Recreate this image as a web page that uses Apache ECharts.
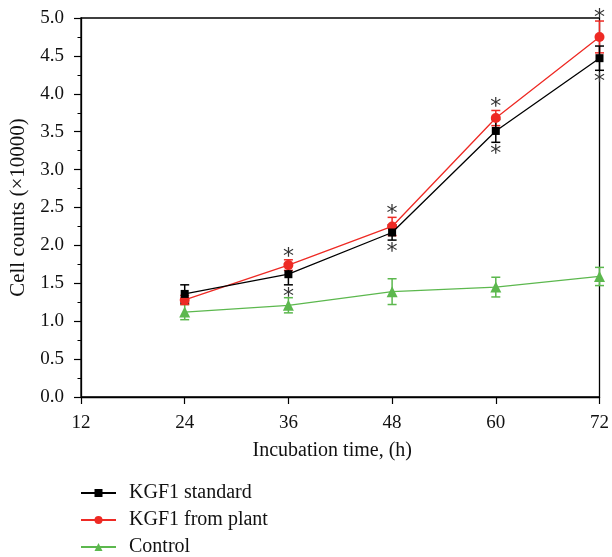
<!DOCTYPE html>
<html><head><meta charset="utf-8">
<script src="https://cdn.jsdelivr.net/npm/echarts@6/dist/echarts.min.js"></script>
<style>html,body{margin:0;padding:0;background:#fff}#c{width:612px;height:557px}</style>
</head><body><div id="c"></div>
<script>
const hours = [24, 36, 48, 60, 72];
const kgfStandard = [1.36, 1.62, 2.17, 3.51, 4.47];
const kgfStandardErr = [0.12, 0.14, 0.10, 0.15, 0.16];
const kgfPlant = [1.28, 1.74, 2.25, 3.68, 4.75];
const kgfPlantErr = [0.06, 0.07, 0.12, 0.10, 0.21];
const control = [1.12, 1.21, 1.39, 1.45, 1.59];
const controlErr = [0.10, 0.10, 0.17, 0.13, 0.12];
const sigHours = [36, 48, 60, 72];
const yTicks = [0, 0.5, 1, 1.5, 2, 2.5, 3, 3.5, 4, 4.5, 5];

const FONT = 'Liberation Serif';
const BLACK = '#000000', RED = '#ee2a24', GREEN = '#5cb84e';

function pts(vals){ return hours.map((h,i)=>[h, vals[i]]); }
function errData(vals, errs){ return hours.map((h,i)=>[h, vals[i]-errs[i], vals[i]+errs[i]]); }

function errSeries(vals, errs, color){
  return {
    type:'custom', silent:true, z:3,
    data: errData(vals, errs),
    renderItem(params, api){
      const x = api.value(0);
      const lo = api.coord([x, api.value(1)]);
      const hi = api.coord([x, api.value(2)]);
      const w = 4.5;
      const st = {stroke: color, lineWidth: 1.5};
      return {type:'group', children:[
        {type:'line', shape:{x1:lo[0], y1:lo[1], x2:hi[0], y2:hi[1]}, style:st},
        {type:'line', shape:{x1:lo[0]-w, y1:lo[1], x2:lo[0]+w, y2:lo[1]}, style:st},
        {type:'line', shape:{x1:hi[0]-w, y1:hi[1], x2:hi[0]+w, y2:hi[1]}, style:st}
      ]};
    }
  };
}

// stars: above KGF1-from-plant error bar top, below KGF1-standard error bar bottom
const starData = [];
sigHours.forEach(h=>{
  const i = hours.indexOf(h);
  starData.push([h, kgfPlant[i]+kgfPlantErr[i], 1]);
  starData.push([h, kgfStandard[i]-kgfStandardErr[i], -1]);
});

const chart = echarts.init(document.getElementById('c'), null, {renderer:'canvas'});
chart.setOption({
  animation:false,
  textStyle:{fontFamily:FONT},
  grid:{left:81, right:11, top:18, bottom:160, show:true, borderColor:'#000', borderWidth:1.3, backgroundColor:'transparent'},
  legend:{
    orient:'vertical', left:80, top:483, height:90, padding:0, itemWidth:35, itemHeight:10, itemGap:7,
    textStyle:{fontFamily:FONT, fontSize:20, color:'#111', padding:[0,0,0,8]},
    data:['KGF1 standard','KGF1 from plant','Control']
  },
  xAxis:{
    type:'value', min:12, max:72, interval:12,
    name:'Incubation time, (h)', nameLocation:'middle', nameGap:44,
    nameTextStyle:{fontFamily:FONT, fontSize:20, color:'#111', padding:[0,16,0,0]},
    axisLine:{lineStyle:{color:'#000', width:1.3}},
    axisTick:{show:true, length:7, lineStyle:{color:'#000', width:1.2}},
    axisLabel:{fontFamily:FONT, fontSize:19, color:'#111', margin:17},
    splitLine:{show:false}
  },
  yAxis:{
    type:'value', min:0, max:5, interval:0.5,
    name:'Cell counts (×10000)', nameLocation:'middle', nameGap:50,
    nameTextStyle:{fontFamily:FONT, fontSize:21, color:'#111'},
    axisLine:{show:true, lineStyle:{color:'#000', width:1.3}},
    axisTick:{show:true, length:7, lineStyle:{color:'#000', width:1.2}},
    minorTick:{show:true, splitNumber:2, length:3.5, lineStyle:{color:'#000', width:1}},
    axisLabel:{fontFamily:FONT, fontSize:19, color:'#111', margin:17,
      formatter:v=>yTicks.includes(v)? v.toFixed(1):''},
    splitLine:{show:false}
  },
  series:[
    errSeries(control, controlErr, GREEN),
    errSeries(kgfPlant, kgfPlantErr, RED),
    errSeries(kgfStandard, kgfStandardErr, BLACK),
    {name:'Control', type:'line', data:pts(control), symbol:'triangle', symbolSize:11,
      itemStyle:{color:GREEN}, lineStyle:{color:GREEN, width:1.3}, z:4},
    {name:'KGF1 from plant', type:'line', data:pts(kgfPlant), symbol:'circle', symbolSize:10,
      itemStyle:{color:RED}, lineStyle:{color:RED, width:1.3}, z:5},
    {name:'KGF1 standard', type:'line', data:pts(kgfStandard), symbol:'rect', symbolSize:8,
      itemStyle:{color:BLACK}, lineStyle:{color:BLACK, width:1.3}, z:6},
    {type:'custom', silent:true, z:7, data:starData,
      renderItem(params, api){
        const p = api.coord([api.value(0), api.value(1)]);
        const up = api.value(2) > 0;
        return {type:'text', x:p[0], y: up ? p[1]-3 : p[1]+12,
          style:{text:'*', fontFamily:'DejaVu Sans', fontSize:22, fill:'#333',
            align:'center', verticalAlign:'middle'}};
      }}
  ]
});
</script></body></html>
